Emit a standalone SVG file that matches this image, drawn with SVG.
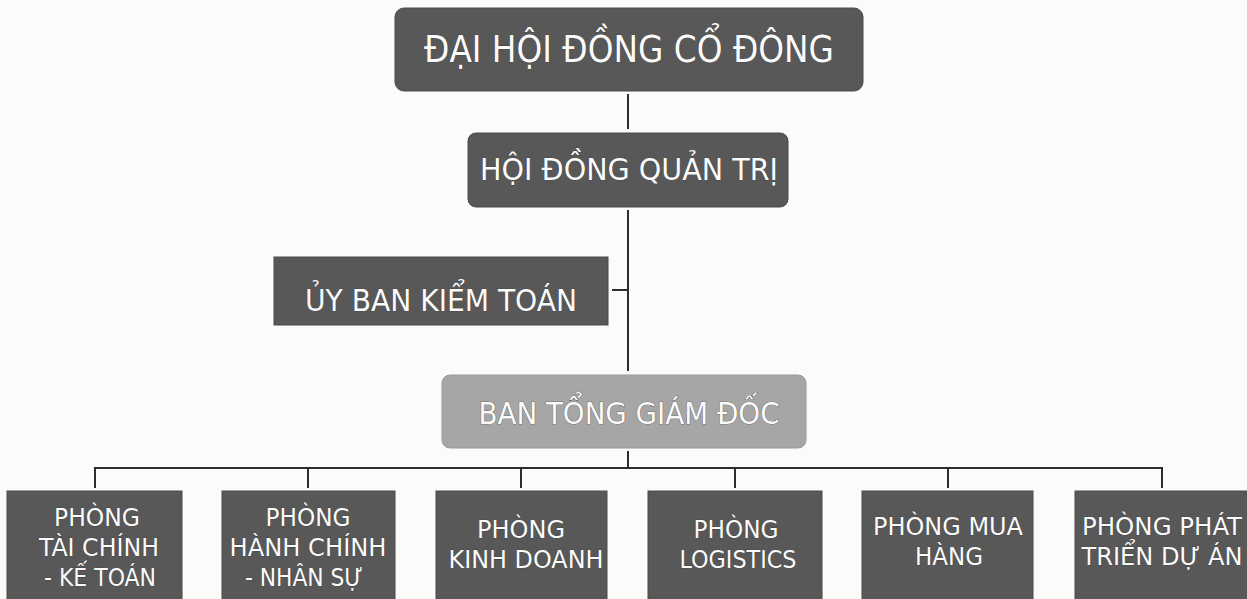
<svg xmlns="http://www.w3.org/2000/svg" width="1247" height="599" viewBox="0 0 1247 599">
<style>
.dark{fill:#585858;stroke:#4a4a4a;stroke-width:1}
.light{fill:#a6a6a6;stroke:#999;stroke-width:1}
.t{font-family:"DejaVu Sans Condensed","DejaVu Sans",sans-serif;fill:#fbfbfb;text-anchor:middle;stroke:#3a3a3a;stroke-width:0.6;paint-order:stroke}
.big{font-size:37px}
.mid{font-size:31px}
.sm{font-size:25px}
.ln{stroke:#2e2e2e;stroke-width:2;fill:none}
</style>
<rect width="1247" height="599" fill="#fbfbf9"/>
<g id="connectors">
<line class="ln" x1="628" y1="94" x2="628" y2="129"/>
<line class="ln" x1="628" y1="210" x2="628" y2="371"/>
<line class="ln" x1="612" y1="290" x2="628" y2="290"/>
<line class="ln" x1="628" y1="451" x2="628" y2="468"/>
<polyline class="ln" points="95,488 95,468 1162,468 1162,488"/>
<line class="ln" x1="308" y1="468" x2="308" y2="488"/>
<line class="ln" x1="521" y1="468" x2="521" y2="488"/>
<line class="ln" x1="735" y1="468" x2="735" y2="488"/>
<line class="ln" x1="948" y1="468" x2="948" y2="488"/>
</g>
<g id="dhdcd">
<rect class="dark" x="395" y="8" width="468" height="83" rx="9"/>
<text class="t big" x="629" y="62" textLength="410" lengthAdjust="spacingAndGlyphs">ĐẠI HỘI ĐỒNG CỔ ĐÔNG</text>
</g>
<g id="hdqt">
<rect class="dark" x="468" y="133" width="320" height="74" rx="8"/>
<text class="t mid" x="629" y="180" textLength="298" lengthAdjust="spacingAndGlyphs">HỘI ĐỒNG QUẢN TRỊ</text>
</g>
<g id="ubkt">
<rect class="dark" x="274" y="257" width="334" height="68"/>
<text class="t mid" x="441" y="311" textLength="272" lengthAdjust="spacingAndGlyphs">ỦY BAN KIỂM TOÁN</text>
</g>
<g id="btgd">
<rect class="light" x="442" y="375" width="364" height="73" rx="8"/>
<text class="t mid" x="629" y="424" textLength="301" lengthAdjust="spacingAndGlyphs">BAN TỔNG GIÁM ĐỐC</text>
</g>
<g id="p1">
<rect class="dark" x="7" y="491" width="175" height="112"/>
<text class="t sm" x="97" y="526" textLength="86" lengthAdjust="spacingAndGlyphs">PHÒNG</text>
<text class="t sm" x="99" y="556" textLength="120" lengthAdjust="spacingAndGlyphs">TÀI CHÍNH</text>
<text class="t sm" x="100" y="586" textLength="112" lengthAdjust="spacingAndGlyphs">- KẾ TOÁN</text>
</g>
<g id="p2">
<rect class="dark" x="222" y="491" width="173" height="112"/>
<text class="t sm" x="308" y="526" textLength="85" lengthAdjust="spacingAndGlyphs">PHÒNG</text>
<text class="t sm" x="308" y="556" textLength="157" lengthAdjust="spacingAndGlyphs">HÀNH CHÍNH</text>
<text class="t sm" x="304" y="586" textLength="118" lengthAdjust="spacingAndGlyphs">- NHÂN SỰ</text>
</g>
<g id="p3">
<rect class="dark" x="436" y="491" width="171" height="112"/>
<text class="t sm" x="521" y="538" textLength="88" lengthAdjust="spacingAndGlyphs">PHÒNG</text>
<text class="t sm" x="526" y="568" textLength="155" lengthAdjust="spacingAndGlyphs">KINH DOANH</text>
</g>
<g id="p4">
<rect class="dark" x="648" y="491" width="174" height="112"/>
<text class="t sm" x="736" y="538" textLength="85" lengthAdjust="spacingAndGlyphs">PHÒNG</text>
<text class="t sm" x="738" y="568" textLength="117" lengthAdjust="spacingAndGlyphs">LOGISTICS</text>
</g>
<g id="p5">
<rect class="dark" x="862" y="491" width="171" height="112"/>
<text class="t sm" x="948" y="535" textLength="150" lengthAdjust="spacingAndGlyphs">PHÒNG MUA</text>
<text class="t sm" x="949" y="565" textLength="68" lengthAdjust="spacingAndGlyphs">HÀNG</text>
</g>
<g id="p6">
<rect class="dark" x="1075" y="491" width="180" height="112"/>
<text class="t sm" x="1162" y="535" textLength="160" lengthAdjust="spacingAndGlyphs">PHÒNG PHÁT</text>
<text class="t sm" x="1162" y="565" textLength="161" lengthAdjust="spacingAndGlyphs">TRIỂN DỰ ÁN</text>
</g>
</svg>
